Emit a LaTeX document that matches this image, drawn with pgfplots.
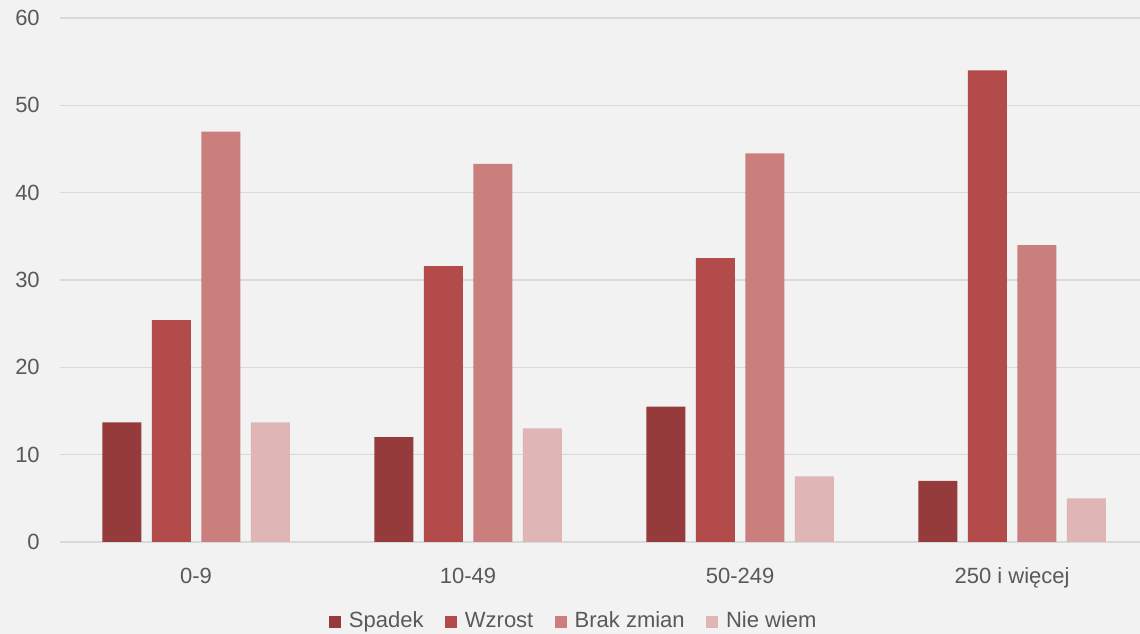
\documentclass[border=0pt]{standalone}
\usepackage{pgfplots}
\pgfplotsset{compat=1.18}
\usepackage{fontspec}
\setmainfont{Liberation Sans}
\definecolor{bg}{HTML}{F2F2F2}
\definecolor{grid}{HTML}{D9D9D9}
\definecolor{txt}{HTML}{595959}
\definecolor{c1}{HTML}{953B3B}
\definecolor{c2}{HTML}{B24B49}
\definecolor{c3}{HTML}{CA7E7D}
\definecolor{c4}{HTML}{DFB5B5}
\begin{document}
\begin{tikzpicture}
\fill[bg] (0,0) rectangle (855pt,475.5pt);
\useasboundingbox (0,0) rectangle (855pt,475.5pt);
\begin{axis}[
  at={(45pt,69pt)}, anchor=south west,
  scale only axis, width=810pt, height=393pt,
  xmin=-0.5, xmax=3.47, ymin=0, ymax=60,
  ytick={0,10,...,60},
  xtick={0,1,2,3},
  xticklabels={0-9,10-49,50-249,250 i więcej},
  axis line style={draw=none},
  major tick length=0pt,
  xtick style={draw=none}, ytick style={draw=none},
  xmajorgrids=false,
  ymajorgrids, y grid style={grid, line width=1.1pt},
  tick label style={font=\fontsize{16.5}{19}\selectfont, text=txt, inner sep=0pt},
  /pgf/number format/assume math mode=true,
  xticklabel style={anchor=base, yshift=-30.8pt},
  yticklabel style={anchor=east, xshift=-15pt},
  ybar, bar width=29.25pt,
  legend columns=4,
  legend style={at={(0.476,-0.153)}, anchor=center, draw=none, fill=none,
    font=\fontsize{16.5}{19}\selectfont, text=txt,
    nodes={text height=12pt, text depth=3.5pt},
    /tikz/every even column/.append style={column sep=14pt},
    /tikz/every odd column/.append style={column sep=4pt}},
  legend image code/.code={\fill[#1] (0pt,-4.5pt) rectangle (9pt,4.5pt);},
]
\addplot[fill=c1, draw=none, bar shift=-55.69pt] coordinates {(0,13.7) (1,12.0) (2,15.5) (3,7.0)};
\addplot[fill=c2, draw=none, bar shift=-18.56pt] coordinates {(0,25.4) (1,31.6) (2,32.5) (3,54.0)};
\addplot[fill=c3, draw=none, bar shift=18.56pt] coordinates {(0,47.0) (1,43.3) (2,44.5) (3,34.0)};
\addplot[fill=c4, draw=none, bar shift=55.69pt] coordinates {(0,13.7) (1,13.0) (2,7.5) (3,5.0)};
\legend{Spadek,Wzrost,Brak zmian,Nie wiem}
\end{axis}
\end{tikzpicture}
\end{document}
